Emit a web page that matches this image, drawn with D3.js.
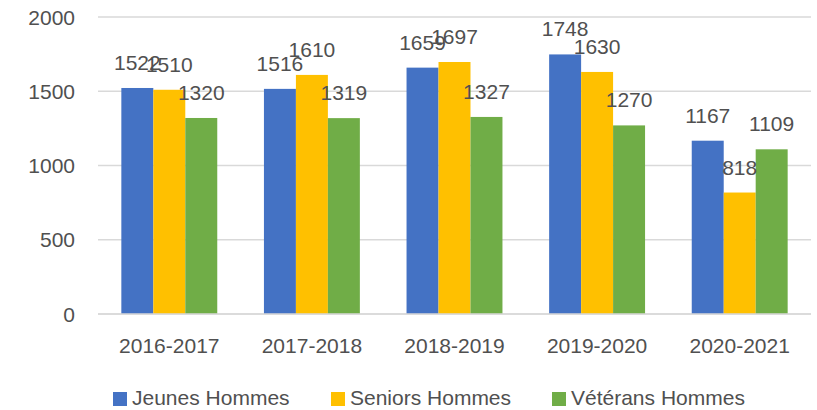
<!DOCTYPE html>
<html>
<head>
<meta charset="utf-8">
<script src="https://cdn.jsdelivr.net/npm/d3@7"></script>
<style>
  html, body { margin: 0; padding: 0; background: #fff; }
  svg text { font-family: "Liberation Sans", Arial, sans-serif; fill: #505050; }
</style>
</head>
<body>
<svg id="chart" width="817" height="410"></svg>
<script>
const seasons = ['2016-2017', '2017-2018', '2018-2019', '2019-2020', '2020-2021'];
const seriesNames = ['Jeunes Hommes', 'Seniors Hommes', 'Vétérans Hommes'];
const jeunes = [1522, 1516, 1659, 1748, 1167];
const seniors = [1510, 1610, 1697, 1630, 818];
const veterans = [1320, 1319, 1327, 1270, 1109];
const yTicks = [0, 500, 1000, 1500, 2000];

const colors = ['#4472C4', '#FFC000', '#70AD47'];
const seriesValues = [jeunes, seniors, veterans];

const width = 817;
const height = 410;
const margin = { top: 17, right: 6, bottom: 96, left: 98 };
const fontSize = 21;

const svg = d3.select('#chart');

const x0 = d3.scaleBand()
  .domain(seasons)
  .range([margin.left, width - margin.right])
  .padding(0);

const x1 = d3.scaleBand()
  .domain(seriesNames)
  .range([0, x0.bandwidth()])
  .paddingInner(0)
  .paddingOuter(0.73);

const y = d3.scaleLinear()
  .domain([0, 2000])
  .range([height - margin.bottom, margin.top]);

// gridlines
svg.append('g')
  .selectAll('line')
  .data(yTicks)
  .enter()
  .append('line')
  .attr('x1', margin.left)
  .attr('x2', width - margin.right)
  .attr('y1', (d) => y(d))
  .attr('y2', (d) => y(d))
  .style('stroke', '#D9D9D9')
  .style('stroke-width', 1.5);

// y labels
svg.append('g')
  .selectAll('text')
  .data(yTicks)
  .enter()
  .append('text')
  .attr('x', 75)
  .attr('y', (d) => y(d))
  .attr('dy', '0.36em')
  .attr('text-anchor', 'end')
  .style('font-size', fontSize + 'px')
  .text((d) => d);

// bars
const rows = seasons.map((s, i) => ({
  season: s,
  values: seriesNames.map((name, k) => ({ name, k, value: seriesValues[k][i] })),
}));

const groups = svg.append('g')
  .selectAll('g')
  .data(rows)
  .enter()
  .append('g')
  .attr('transform', (d) => `translate(${x0(d.season)},0)`);

groups.selectAll('rect')
  .data((d) => d.values)
  .enter()
  .append('rect')
  .attr('x', (d) => x1(d.name))
  .attr('y', (d) => y(d.value))
  .attr('width', x1.bandwidth())
  .attr('height', (d) => y(0) - y(d.value))
  .style('fill', (d) => colors[d.k]);

groups.selectAll('text')
  .data((d) => d.values)
  .enter()
  .append('text')
  .attr('x', (d) => x1(d.name) + x1.bandwidth() / 2)
  .attr('y', (d) => y(d.value) - 18)
  .attr('text-anchor', 'middle')
  .style('font-size', fontSize + 'px')
  .text((d) => d.value);

// baseline
svg.append('line')
  .attr('x1', margin.left)
  .attr('x2', width - margin.right)
  .attr('y1', y(0))
  .attr('y2', y(0))
  .style('stroke', '#D9D9D9')
  .style('stroke-width', 1.5);

// x labels
svg.append('g')
  .selectAll('text')
  .data(seasons)
  .enter()
  .append('text')
  .attr('x', (d) => x0(d) + x0.bandwidth() / 2)
  .attr('y', 353)
  .attr('text-anchor', 'middle')
  .style('font-size', fontSize + 'px')
  .text((d) => d);

// legend
const legendX = [113, 331, 552];
const legend = svg.append('g')
  .selectAll('g')
  .data(seriesNames)
  .enter()
  .append('g')
  .attr('transform', (d, i) => `translate(${legendX[i]},0)`);

legend.append('rect')
  .attr('x', 0)
  .attr('y', 392)
  .attr('width', 14)
  .attr('height', 14)
  .style('fill', (d, i) => colors[i]);

legend.append('text')
  .attr('x', 19)
  .attr('y', 405)
  .style('font-size', fontSize + 'px')
  .text((d) => d);
</script>
</body>
</html>
